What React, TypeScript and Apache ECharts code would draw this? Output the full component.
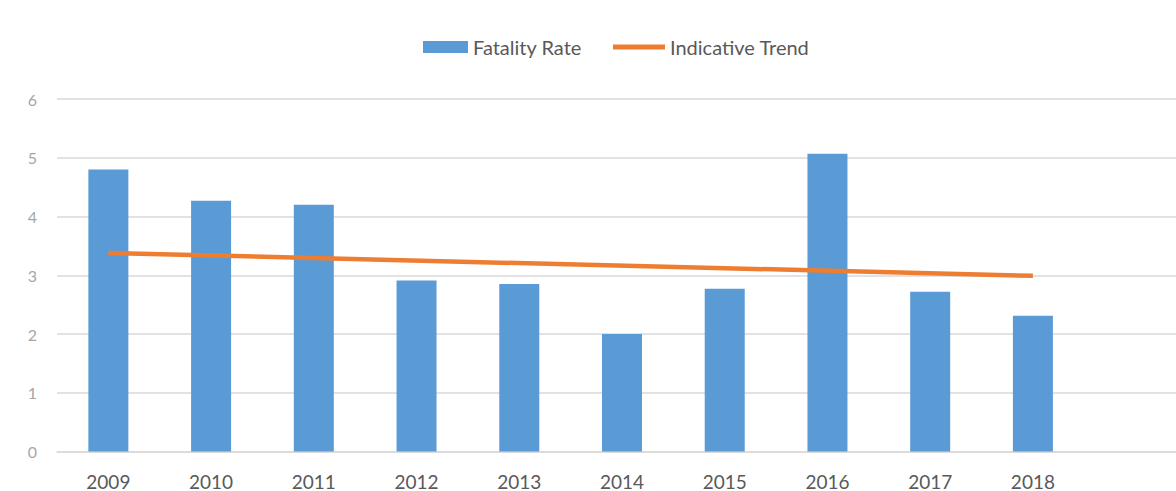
import React, { useEffect, useRef } from "react";
import * as echarts from "echarts";

const categories = ["2009", "2010", "2011", "2012", "2013", "2014", "2015", "2016", "2017", "2018"];
const fatalityRate = [4.8, 4.27, 4.2, 2.91, 2.85, 2.0, 2.77, 5.07, 2.72, 2.31];
// Indicative trend: straight line drawn between its first and last read values
const indicativeTrend = [3.38, null, null, null, null, null, null, null, null, 2.99];
const yTicks = { min: 0, max: 6, interval: 1 };

const FONT = "Lato, 'Noto Sans', sans-serif";

export default function App() {
  const ref = useRef<HTMLDivElement>(null);
  useEffect(() => {
    document.body.style.margin = "0";
    document.body.style.overflow = "hidden";
    const chart = echarts.init(ref.current!, null, { renderer: "svg" });
    chart.setOption({
      animation: false,
      backgroundColor: "#ffffff",
      textStyle: { fontFamily: FONT },
      legend: [
        {
          data: ["Fatality Rate"],
          left: 423,
          top: 37,
          padding: 0,
          icon: "rect",
          itemWidth: 45,
          itemHeight: 12,
          textStyle: { color: "#595959", fontSize: 20, fontFamily: FONT },
          selectedMode: false,
        },
        {
          data: ["Indicative Trend"],
          left: 613,
          top: 37,
          padding: 0,
          icon: "rect",
          itemWidth: 52,
          itemHeight: 5,
          textStyle: { color: "#595959", fontSize: 20, fontFamily: FONT },
          selectedMode: false,
        },
      ],
      grid: { left: 57, top: 99, width: 1130, height: 352.5, containLabel: false },
      xAxis: {
        type: "category",
        data: categories,
        max: 10,
        axisLine: { show: true, lineStyle: { color: "#d9d9d9", width: 1.5 } },
        axisTick: { show: false },
        axisLabel: { color: "#595959", fontSize: 19, lineHeight: 19, margin: 20, fontFamily: FONT },
        splitLine: { show: false },
      },
      yAxis: {
        type: "value",
        min: yTicks.min,
        max: yTicks.max,
        interval: yTicks.interval,
        axisLine: { show: false },
        axisTick: { show: false },
        axisLabel: { color: "#a6a6a6", fontSize: 16, margin: 20, fontFamily: FONT },
        splitLine: { lineStyle: { color: "#d9d9d9", width: 1.5 } },
      },
      series: [
        {
          name: "Fatality Rate",
          type: "bar",
          data: fatalityRate,
          barWidth: 40,
          itemStyle: { color: "#5b9bd5" },
        },
        {
          name: "Indicative Trend",
          type: "line",
          data: indicativeTrend,
          connectNulls: true,
          symbol: "none",
          itemStyle: { color: "#ed7d31" },
          lineStyle: { color: "#ed7d31", width: 4.5 },
        },
      ],
    });
    return () => chart.dispose();
  }, []);
  return (
    <div style={{ width: 1176, height: 491, overflow: "hidden", position: "relative" }}>
      <div ref={ref} style={{ width: 1200, height: 491 }} />
    </div>
  );
}
